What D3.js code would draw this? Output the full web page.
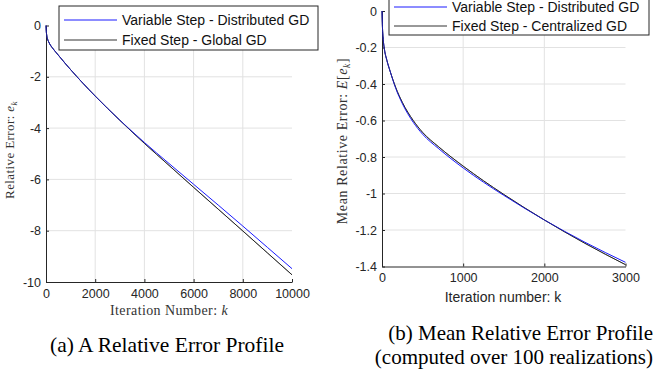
<!DOCTYPE html>
<html>
<head>
<meta charset="utf-8">
<script src="https://cdn.jsdelivr.net/npm/d3@7"></script>
<style>
  body { margin: 0; background: #fff; }
  svg { display: block; }
</style>
</head>
<body>
<svg id="chart" width="655" height="377"></svg>
<script>
// (a) relative error profile
const itersA = [0, 10, 30, 60, 100, 150, 250, 400, 600, 800, 1000, 1500, 2000, 2500, 3000, 4000, 5000, 6000, 7000, 8000, 9000, 10000];
const variableA = [0, -0.2, -0.38, -0.52, -0.62, -0.72, -0.86, -1.04, -1.27, -1.5, -1.72, -2.25, -2.75, -3.23, -3.69, -4.56, -5.38, -6.19, -7.0, -7.82, -8.65, -9.48];
const fixedA = [0, -0.2, -0.38, -0.52, -0.62, -0.72, -0.86, -1.04, -1.27, -1.5, -1.72, -2.25, -2.75, -3.23, -3.695, -4.595, -5.455, -6.31, -7.16, -8.01, -8.865, -9.72];
const xTicksA = [0, 2000, 4000, 6000, 8000, 10000];
const yTicksA = [0, -2, -4, -6, -8, -10];
const legendA = ['Variable Step - Distributed GD', 'Fixed Step - Global GD'];

// (b) mean relative error profile
const itersB = [0, 5, 15, 30, 60, 100, 170, 250, 385, 500, 700, 1000, 1250, 1500, 2000, 2500, 3000];
const variableB = [0, -0.08, -0.155, -0.21, -0.27, -0.33, -0.425, -0.507, -0.61, -0.675, -0.755, -0.86, -0.938, -1.01, -1.145, -1.267, -1.377];
const fixedB = [0, -0.08, -0.155, -0.21, -0.27, -0.33, -0.42, -0.5, -0.6, -0.665, -0.745, -0.85, -0.93, -1.005, -1.145, -1.273, -1.39];
const xTicksB = [0, 1000, 2000, 3000];
const yTicksB = [0, -0.2, -0.4, -0.6, -0.8, -1, -1.2, -1.4];
const legendB = ['Variable Step - Distributed GD', 'Fixed Step - Centralized GD'];

const svg = d3.select('#chart');
const sans = 'Liberation Sans, Arial, sans-serif';
const serif = 'Liberation Serif, Times New Roman, serif';
const axisColor = '#262626';
const blue = '#1a1aff';

function panel(o) {
    const x = d3.scaleLinear().domain(o.xDomain).range([o.left, o.right]);
    const y = d3.scaleLinear().domain(o.yDomain).range([o.bottom, o.top]);
    const g = svg.append('g');

    // grid (not at the limits)
    g.append('g')
        .selectAll('line')
        .data(o.xTicks.slice(1, -1))
        .enter().append('line')
        .attr('x1', d => x(d)).attr('x2', d => x(d))
        .attr('y1', o.top).attr('y2', o.bottom)
        .attr('stroke', '#e2e2e2');
    g.append('g')
        .selectAll('line')
        .data(o.yTicks.slice(1, -1))
        .enter().append('line')
        .attr('x1', o.left).attr('x2', o.right)
        .attr('y1', d => y(d)).attr('y2', d => y(d))
        .attr('stroke', '#e2e2e2');

    const fmt = d => String(d);
    const xAxis = g.append('g')
        .attr('transform', 'translate(0,' + o.bottom + ')')
        .call(d3.axisBottom(x).tickValues(o.xTicks).tickFormat(fmt)
            .tickSizeInner(-3).tickSizeOuter(0).tickPadding(7));
    const yAxis = g.append('g')
        .attr('transform', 'translate(' + o.left + ',0)')
        .call(d3.axisLeft(y).tickValues(o.yTicks).tickFormat(fmt)
            .tickSizeInner(-3).tickSizeOuter(0).tickPadding(5));
    [xAxis, yAxis].forEach(a => {
        a.select('.domain').attr('stroke', axisColor);
        a.selectAll('.tick line').attr('stroke', axisColor);
        a.selectAll('.tick text').attr('fill', axisColor)
            .style('font-family', sans).style('font-size', '12.5px');
    });

    // curves
    const line = d3.line()
        .x((d, i) => x(o.iters[i]))
        .y(d => y(d))
        .curve(d3.curveMonotoneX);
    g.append('path').datum(o.fixed)
        .attr('fill', 'none').attr('stroke', '#222').attr('stroke-width', 1)
        .attr('d', line);
    g.append('path').datum(o.variable)
        .attr('fill', 'none').attr('stroke', blue).attr('stroke-width', 1)
        .attr('d', line);
    // black again, half see-through, so the overlap looks dark blue
    g.append('path').datum(o.fixed)
        .attr('fill', 'none').attr('stroke', '#222').attr('stroke-width', 0.8)
        .attr('stroke-opacity', 0.5)
        .attr('d', line);

    // legend
    const lg = g.append('g');
    lg.append('rect')
        .attr('x', o.leg.x).attr('y', o.leg.y)
        .attr('width', o.leg.w).attr('height', o.leg.h)
        .attr('fill', '#fff').attr('stroke', axisColor);
    const legColors = [blue, '#333'];
    o.legend.forEach((t, i) => {
        const ly = o.leg.row0 + i * o.leg.step;
        lg.append('line')
            .attr('x1', o.leg.x + 5).attr('x2', o.leg.x + 58)
            .attr('y1', ly).attr('y2', ly)
            .attr('stroke', legColors[i]);
        lg.append('text')
            .attr('x', o.leg.x + 63).attr('y', ly + 5)
            .attr('fill', '#111')
            .style('font-family', sans).style('font-size', '14px')
            .text(t);
    });
    return g;
}

const gA = panel({
    left: 46, right: 292, top: 25.5, bottom: 282,
    xDomain: [0, 10000], yDomain: [-10, 0],
    xTicks: xTicksA, yTicks: yTicksA,
    iters: itersA, variable: variableA, fixed: fixedA,
    legend: legendA,
    leg: { x: 59, y: 6, w: 259, h: 44, row0: 20, step: 20 }
});

const gB = panel({
    left: 382, right: 625.5, top: 11, bottom: 266.5,
    xDomain: [0, 3000], yDomain: [-1.4, 0],
    xTicks: xTicksB, yTicks: yTicksB,
    iters: itersB, variable: variableB, fixed: fixedB,
    legend: legendB,
    leg: { x: 389, y: -6, w: 260, h: 41, row0: 7, step: 19 }
});

// axis labels
const labA = gA.append('text')
    .attr('transform', 'translate(14,150) rotate(-90)')
    .attr('text-anchor', 'middle')
    .attr('fill', '#333')
    .style('font-family', serif).style('font-size', '13px')
    .style('letter-spacing', '0.4px');
labA.append('tspan').text('Relative Error:  ');
labA.append('tspan').attr('font-style', 'italic').text('e');
labA.append('tspan').attr('font-style', 'italic').attr('font-size', '9px').attr('dy', 3).text('k');

const labAx = gA.append('text')
    .attr('x', 169).attr('y', 315)
    .attr('text-anchor', 'middle')
    .attr('fill', '#333')
    .style('font-family', serif).style('font-size', '14px')
    .style('letter-spacing', '0.4px');
labAx.append('tspan').text('Iteration Number:  ');
labAx.append('tspan').attr('font-style', 'italic').text('k');

const labB = gB.append('text')
    .attr('transform', 'translate(347,141) rotate(-90)')
    .attr('text-anchor', 'middle')
    .attr('fill', '#333')
    .style('font-family', serif).style('font-size', '14px')
    .style('letter-spacing', '0.6px');
labB.append('tspan').text('Mean Relative Error:  ');
labB.append('tspan').attr('font-style', 'italic').text('E');
labB.append('tspan').text('[');
labB.append('tspan').attr('font-style', 'italic').text('e');
labB.append('tspan').attr('font-style', 'italic').attr('font-size', '9.5px').attr('dy', 3).text('k');
labB.append('tspan').attr('dy', -3).text(']');

gB.append('text')
    .attr('x', 503).attr('y', 302)
    .attr('text-anchor', 'middle')
    .attr('fill', axisColor)
    .style('font-family', sans).style('font-size', '14px')
    .text('Iteration number: k');

// captions
const caps = [
    { t: '(a) A Relative Error Profile', x: 167, y: 352, a: 'middle', s: 21.5 },
    { t: '(b) Mean Relative Error Profile', x: 653, y: 340, a: 'end', s: 21 },
    { t: '(computed over 100 realizations)', x: 653, y: 364, a: 'end', s: 21 }
];
svg.selectAll('text.cap')
    .data(caps)
    .enter().append('text')
    .attr('class', 'cap')
    .attr('x', d => d.x).attr('y', d => d.y)
    .attr('text-anchor', d => d.a)
    .attr('fill', '#000')
    .style('font-family', serif).style('font-size', d => d.s + 'px')
    .text(d => d.t);
</script>
</body>
</html>
